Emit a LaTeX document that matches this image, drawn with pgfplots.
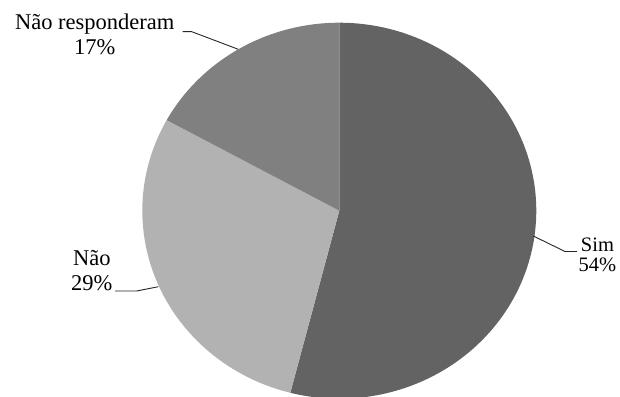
\documentclass[border=0pt]{standalone}
\usepackage{pgfplots}
\pgfplotsset{compat=1.18}
\usepackage{fontspec}
\setmainfont{Liberation Serif}
\definecolor{cSim}{RGB}{99,99,99}
\definecolor{cNao}{RGB}{178,178,178}
\definecolor{cNR}{RGB}{128,128,128}
% values (percent)
\def\vSim{54}
\def\vNao{29}
\def\vNR{17}
\def\cx{339.3}
\def\cy{185.3}
\def\rx{197}
\def\ry{188}
\begin{document}
\begin{tikzpicture}
\pgfmathsetmacro\aA{0}
\pgfmathsetmacro\aB{\vSim*3.6}
\pgfmathsetmacro\aC{(\vSim+\vNao)*3.6}
\pgfmathsetmacro\aD{(\vSim+\vNao+\vNR)*3.6}
\begin{axis}[
  width=620bp, height=396bp, scale only axis,
  xmin=0, xmax=620, ymin=0, ymax=396,
  hide axis, clip=true,
]
\addplot[fill=cSim, draw=none, domain=\aA:\aB, samples=120, variable=\t]
  ({\cx+\rx*sin(\t)},{\cy+\ry*cos(\t)}) -- (axis cs:\cx,\cy) -- cycle;
\addplot[fill=cNao, draw=none, domain=\aB:\aC, samples=80, variable=\t]
  ({\cx+\rx*sin(\t)},{\cy+\ry*cos(\t)}) -- (axis cs:\cx,\cy) -- cycle;
\addplot[fill=cNR, draw=none, domain=\aC:\aD, samples=60, variable=\t]
  ({\cx+\rx*sin(\t)},{\cy+\ry*cos(\t)}) -- (axis cs:\cx,\cy) -- cycle;
% leader lines
\draw[black!85, line width=0.9bp] (axis cs:182.7,364.3) -- (axis cs:191.7,364.3) -- (axis cs:238.3,346.7);
\draw[black!85, line width=0.9bp] (axis cs:533.3,160) -- (axis cs:565,144.5) -- (axis cs:577,144.5);
\draw[black!85, line width=0.9bp] (axis cs:115,105) -- (axis cs:136.7,105) -- (axis cs:158.3,109.3);
% labels
\tikzset{lab/.style={anchor=base, inner sep=0pt, font=\fontsize{22.5bp}{26bp}\selectfont}}
\node[lab] at (axis cs:94.7,366) {Não responderam};
\node[lab] at (axis cs:94.7,341) {17\%};
\node[lab, font=\fontsize{20.5bp}{22bp}\selectfont] at (axis cs:597.5,144.7) {Sim};
\node[lab, font=\fontsize{20.5bp}{22bp}\selectfont] at (axis cs:597.5,125) {54\%};
\node[lab] at (axis cs:91.8,130.3) {Não};
\node[lab] at (axis cs:91.8,105.3) {29\%};
\end{axis}
\pgfresetboundingbox
\path[use as bounding box] (current axis.south west) rectangle (current axis.north east);
\end{tikzpicture}
\end{document}
